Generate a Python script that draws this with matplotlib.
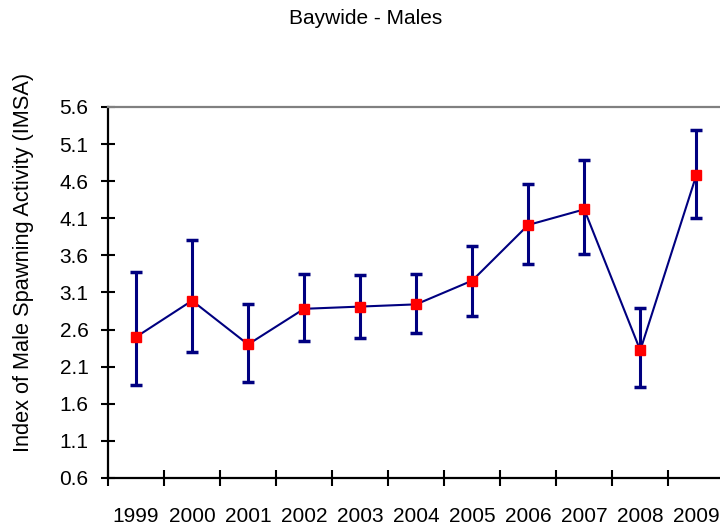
import matplotlib
matplotlib.use("Agg")
from matplotlib import pyplot as plt
import numpy as np

plt.rcParams['font.family'] = ['Liberation Sans', 'DejaVu Sans']

# datos
anios = ['1999', '2000', '2001', '2002', '2003', '2004', '2005', '2006', '2007', '2008', '2009']
imsa = [2.50, 2.99, 2.40, 2.88, 2.91, 2.94, 3.26, 4.01, 4.22, 2.32, 4.68]
err_sup = [3.38, 3.81, 2.95, 3.35, 3.33, 3.35, 3.73, 4.56, 4.88, 2.89, 5.29]
err_inf = [1.85, 2.30, 1.90, 2.44, 2.49, 2.55, 2.78, 3.49, 3.62, 1.82, 4.11]
y_ticks = [0.6, 1.1, 1.6, 2.1, 2.6, 3.1, 3.6, 4.1, 4.6, 5.1, 5.6]

fig = plt.figure(figsize=(7.2, 5.27), dpi=100)
ax = fig.add_axes([0.15, 0.093, 0.856, 0.704])

x = np.arange(len(anios))
imsa = np.array(imsa)
yerr = [imsa - np.array(err_inf), np.array(err_sup) - imsa]

ax.errorbar(x, imsa, yerr=yerr, color='#000080', lw=1.5, elinewidth=2.2,
            capsize=4.5, capthick=2.5, zorder=2)
ax.plot(x, imsa, 's', color='#ff0000', ms=7, zorder=3)

ax.set_xlim(-0.5, len(anios) - 0.5)
ax.set_ylim(0.6, 5.6)
ax.set_yticks(y_ticks)
ax.set_yticklabels(['%.1f' % v for v in y_ticks])
ax.set_xticks(x)
ax.set_xticklabels(anios)
ax.set_xticks(np.arange(len(anios)) - 0.5, minor=True)

ax.tick_params(axis='x', which='major', length=0, pad=21, labelsize=15)
ax.tick_params(axis='x', which='minor', direction='inout', length=11, width=1.5)
ax.tick_params(axis='y', direction='inout', length=10, width=1.5, pad=9, labelsize=15)

ax.spines['right'].set_visible(False)
ax.spines['top'].set_color('#808080')
ax.spines['top'].set_linewidth(1.6)
ax.spines['left'].set_linewidth(1.6)
ax.spines['bottom'].set_linewidth(1.6)

fig.text(24 / 720, 1 - 262 / 527, 'Index of Male Spawning Activity (IMSA)',
         rotation=90, ha='center', va='center', fontsize=15.7)
fig.text(366 / 720, 1 - 18 / 527, 'Baywide - Males', ha='center', va='center',
         fontsize=15)

fig.savefig('out.png', dpi=100)
